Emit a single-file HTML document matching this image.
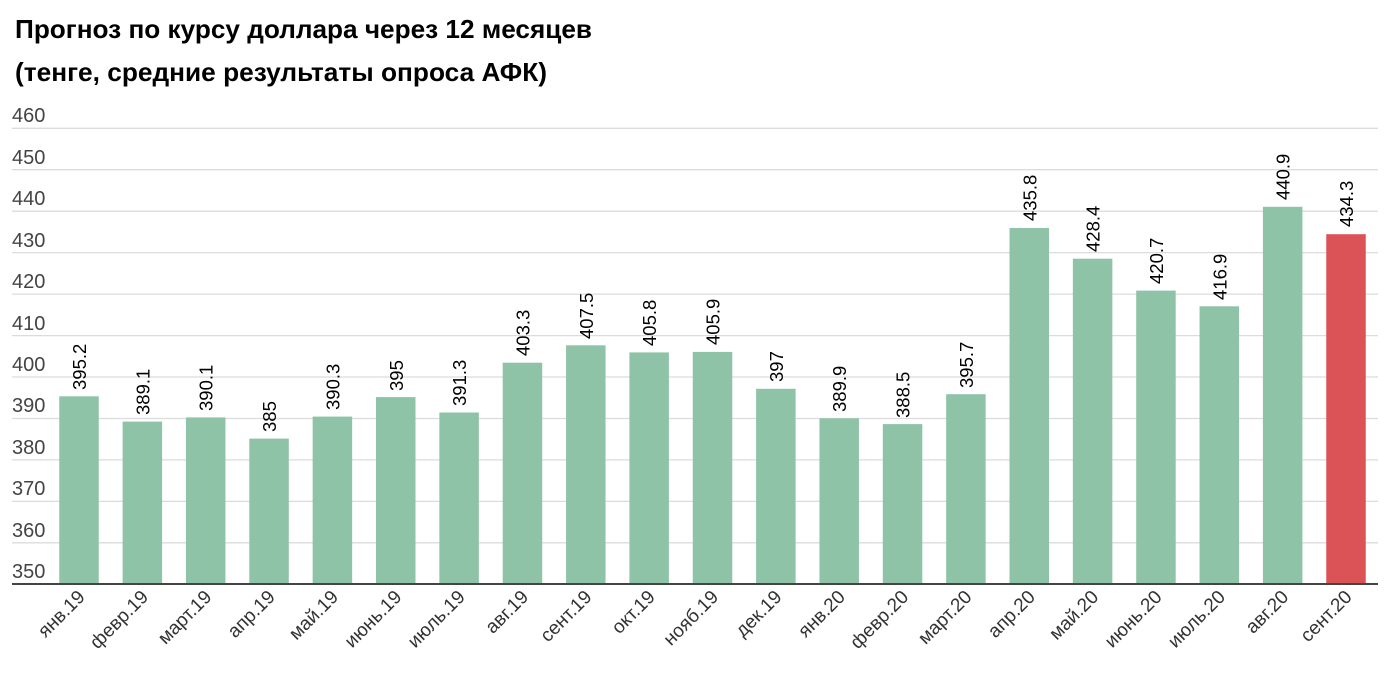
<!DOCTYPE html>
<html><head><meta charset="utf-8"><style>
html,body{margin:0;padding:0;background:#fff;}
svg{display:block;font-family:"Liberation Sans",sans-serif;}
</style></head><body>
<svg width="1389" height="673" viewBox="0 0 1389 673" xmlns="http://www.w3.org/2000/svg">
<text x="15" y="38" font-size="26" font-weight="bold" fill="#000" textLength="577" lengthAdjust="spacingAndGlyphs">Прогноз по курсу доллара через 12 месяцев</text>
<text x="15" y="81" font-size="26" font-weight="bold" fill="#000" textLength="532" lengthAdjust="spacingAndGlyphs">(тенге, средние результаты опроса АФК)</text>
<g stroke="#dcdcdc" stroke-width="1.3">
<line x1="12" x2="1378" y1="128.3" y2="128.3"/>
<line x1="12" x2="1378" y1="169.7" y2="169.7"/>
<line x1="12" x2="1378" y1="211.2" y2="211.2"/>
<line x1="12" x2="1378" y1="252.6" y2="252.6"/>
<line x1="12" x2="1378" y1="294.1" y2="294.1"/>
<line x1="12" x2="1378" y1="335.6" y2="335.6"/>
<line x1="12" x2="1378" y1="377.0" y2="377.0"/>
<line x1="12" x2="1378" y1="418.5" y2="418.5"/>
<line x1="12" x2="1378" y1="459.9" y2="459.9"/>
<line x1="12" x2="1378" y1="501.4" y2="501.4"/>
<line x1="12" x2="1378" y1="542.8" y2="542.8"/>
</g>
<g font-size="20" fill="#444">
<text x="12" y="122">460</text><text x="12" y="164">450</text><text x="12" y="205">440</text>
<text x="12" y="247">430</text><text x="12" y="288">420</text><text x="12" y="330">410</text>
<text x="12" y="371">400</text><text x="12" y="412">390</text><text x="12" y="454">380</text>
<text x="12" y="495">370</text><text x="12" y="537">360</text><text x="12" y="578">350</text>
</g>
<g fill="#8fc3a7">
<rect x="59.25" y="396.3" width="39.5" height="187.4"/>
<rect x="122.6" y="421.6" width="39.5" height="162.1"/>
<rect x="185.95" y="417.4" width="39.5" height="166.3"/>
<rect x="249.3" y="438.6" width="39.5" height="145.1"/>
<rect x="312.65" y="416.6" width="39.5" height="167.1"/>
<rect x="376" y="397.1" width="39.5" height="186.6"/>
<rect x="439.35" y="412.5" width="39.5" height="171.2"/>
<rect x="502.7" y="362.7" width="39.5" height="221"/>
<rect x="566.05" y="345.3" width="39.5" height="238.4"/>
<rect x="629.4" y="352.4" width="39.5" height="231.3"/>
<rect x="692.75" y="351.9" width="39.5" height="231.8"/>
<rect x="756.1" y="388.8" width="39.5" height="194.9"/>
<rect x="819.45" y="418.3" width="39.5" height="165.4"/>
<rect x="882.8" y="424.1" width="39.5" height="159.6"/>
<rect x="946.15" y="394.2" width="39.5" height="189.5"/>
<rect x="1009.5" y="228" width="39.5" height="355.7"/>
<rect x="1072.85" y="258.7" width="39.5" height="325"/>
<rect x="1136.2" y="290.6" width="39.5" height="293.1"/>
<rect x="1199.55" y="306.3" width="39.5" height="277.4"/>
<rect x="1262.9" y="206.8" width="39.5" height="376.9"/>
</g>
<rect x="1326.25" y="234.2" width="39.5" height="349.5" fill="#dc5357"/>
<line x1="12" x2="1378" y1="584" y2="584" stroke="#444" stroke-width="2"/>
<g font-size="18.5" fill="#000">
<text transform="translate(86,390) rotate(-90)">395.2</text>
<text transform="translate(149.35,415) rotate(-90)">389.1</text>
<text transform="translate(212.7,411) rotate(-90)">390.1</text>
<text transform="translate(276.05,432) rotate(-90)">385</text>
<text transform="translate(339.4,410) rotate(-90)">390.3</text>
<text transform="translate(402.75,391) rotate(-90)">395</text>
<text transform="translate(466.1,406) rotate(-90)">391.3</text>
<text transform="translate(529.45,356) rotate(-90)">403.3</text>
<text transform="translate(592.8,339) rotate(-90)">407.5</text>
<text transform="translate(656.15,346) rotate(-90)">405.8</text>
<text transform="translate(719.5,345) rotate(-90)">405.9</text>
<text transform="translate(782.85,382) rotate(-90)">397</text>
<text transform="translate(846.2,412) rotate(-90)">389.9</text>
<text transform="translate(909.55,418) rotate(-90)">388.5</text>
<text transform="translate(972.9,388) rotate(-90)">395.7</text>
<text transform="translate(1036.25,221) rotate(-90)">435.8</text>
<text transform="translate(1099.6,252) rotate(-90)">428.4</text>
<text transform="translate(1162.95,284) rotate(-90)">420.7</text>
<text transform="translate(1226.3,300) rotate(-90)">416.9</text>
<text transform="translate(1289.65,200) rotate(-90)">440.9</text>
<text transform="translate(1353,227) rotate(-90)">434.3</text>
</g>
<g font-size="19" fill="#333" text-anchor="end">
<text transform="translate(86,598) rotate(-45)">янв.19</text>
<text transform="translate(149.35,598) rotate(-45)">февр.19</text>
<text transform="translate(212.7,598) rotate(-45)">март.19</text>
<text transform="translate(276.05,598) rotate(-45)">апр.19</text>
<text transform="translate(339.4,598) rotate(-45)">май.19</text>
<text transform="translate(402.75,598) rotate(-45)">июнь.19</text>
<text transform="translate(466.1,598) rotate(-45)">июль.19</text>
<text transform="translate(529.45,598) rotate(-45)">авг.19</text>
<text transform="translate(592.8,598) rotate(-45)">сент.19</text>
<text transform="translate(656.15,598) rotate(-45)">окт.19</text>
<text transform="translate(719.5,598) rotate(-45)">нояб.19</text>
<text transform="translate(782.85,598) rotate(-45)">дек.19</text>
<text transform="translate(846.2,598) rotate(-45)">янв.20</text>
<text transform="translate(909.55,598) rotate(-45)">февр.20</text>
<text transform="translate(972.9,598) rotate(-45)">март.20</text>
<text transform="translate(1036.25,598) rotate(-45)">апр.20</text>
<text transform="translate(1099.6,598) rotate(-45)">май.20</text>
<text transform="translate(1162.95,598) rotate(-45)">июнь.20</text>
<text transform="translate(1226.3,598) rotate(-45)">июль.20</text>
<text transform="translate(1289.65,598) rotate(-45)">авг.20</text>
<text transform="translate(1353,598) rotate(-45)">сент.20</text>
</g>
</svg>
</body></html>
